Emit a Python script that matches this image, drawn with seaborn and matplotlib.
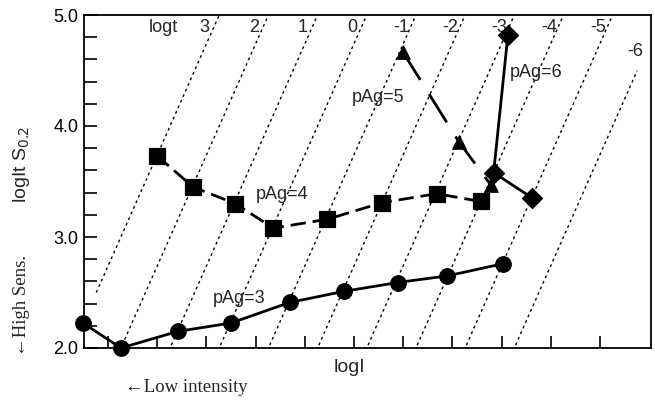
import numpy as np
import pandas as pd
import matplotlib
matplotlib.use("Agg")
import matplotlib.pyplot as plt
import seaborn as sns

# ---- data ----
pag3_x = [-0.77, 0.00, 1.16, 2.24, 3.43, 4.53, 5.63, 6.64, 7.78]
pag3_y = [2.225, 2.00, 2.15, 2.225, 2.41, 2.51, 2.59, 2.65, 2.76]

pag4_x = [0.74, 1.47, 2.33, 3.10, 4.20, 5.32, 6.42, 7.32]
pag4_y = [3.73, 3.45, 3.30, 3.08, 3.16, 3.31, 3.39, 3.32]

pag5_x = [5.73, 6.87, 7.52]
pag5_y = [4.67, 3.86, 3.47]

pag6_x = [7.87, 7.58, 8.37]
pag6_y = [4.82, 3.58, 3.35]

logt_values = [3, 2, 1, 0, -1, -2, -3, -4, -5, -6]
logt_labels = ["3", "2", "1", "0", "-1", "-2", "-3", "-4", "-5", "-6"]
series_labels = ["pAg=3", "pAg=4", "pAg=5", "pAg=6"]
yticks_major = [2.0, 3.0, 4.0, 5.0]
ytick_labels = ["2.0", "3.0", "4.0", "5.0"]

sns.set_style("ticks")
plt.rcParams['font.family'] = ['Liberation Sans', 'DejaVu Sans']

fig = plt.figure(figsize=(6.55, 4.0), dpi=100)
ax = fig.add_axes([84/655, 1-348/400, (651-84)/655, (348-15)/400])

xmin, xmax = -0.75, 10.78
ax.set_xlim(xmin, xmax)
ax.set_ylim(2.0, 5.0)

# isochrone guide lines: logIt = logI + logt
for lt in logt_values:
    xs = np.array([-0.5, 10.5])
    ax.plot(xs, xs + lt, color='black', lw=1.0, linestyle=(0, (2.0, 2.4)), zorder=1)

df3 = pd.DataFrame({'x': pag3_x, 'y': pag3_y})
df4 = pd.DataFrame({'x': pag4_x, 'y': pag4_y})
df5 = pd.DataFrame({'x': pag5_x, 'y': pag5_y})
df6 = pd.DataFrame({'x': pag6_x, 'y': pag6_y})

sns.lineplot(data=df3, x='x', y='y', ax=ax, sort=False, estimator=None,
             color='black', lw=2.0, zorder=3)
sns.lineplot(data=df4, x='x', y='y', ax=ax, sort=False, estimator=None,
             color='black', lw=2.0, zorder=3, linestyle=(0, (5.5, 2.5)))
sns.lineplot(data=df5, x='x', y='y', ax=ax, sort=False, estimator=None,
             color='black', lw=2.0, zorder=3, linestyle=(0, (12, 6)))
sns.lineplot(data=df6, x='x', y='y', ax=ax, sort=False, estimator=None,
             color='black', lw=2.0, zorder=3)

sc_kw = dict(color='black', edgecolor='black', zorder=4, clip_on=False, legend=False)
sns.scatterplot(data=df3, x='x', y='y', ax=ax, marker='o', s=125, **sc_kw)
sns.scatterplot(data=df4, x='x', y='y', ax=ax, marker='s', s=120, **sc_kw)
sns.scatterplot(data=df5, x='x', y='y', ax=ax, marker='^', s=95, **sc_kw)
sns.scatterplot(data=df6, x='x', y='y', ax=ax, marker='D', s=105, **sc_kw)

# logt labels
fs = 13
ax.text(0.86, 4.89, "logt", ha='center', va='center', fontsize=fs)
for lt, lab in zip(logt_values, logt_labels):
    if lt == -6:
        ax.text(10.45, 4.67, lab, ha='center', va='center', fontsize=fs)
    else:
        ax.text(5 - lt - 0.3, 4.89, lab, ha='center', va='center', fontsize=fs)

# series labels
ax.text(2.41, 2.45, series_labels[0], ha='center', va='center', fontsize=fs)
ax.text(3.28, 3.38, series_labels[1], ha='center', va='center', fontsize=fs)
ax.text(5.24, 4.26, series_labels[2], ha='center', va='center', fontsize=fs)
ax.text(8.44, 4.48, series_labels[3], ha='center', va='center', fontsize=fs)

# ticks
ax.set_yticks(yticks_major)
ax.set_yticklabels(ytick_labels, fontsize=fs)
ax.set_yticks(np.arange(2.2, 5.0, 0.2), minor=True)
ax.set_xticks(np.arange(-0.26, 10.0, 1.0))
ax.set_xticklabels([])
ax.tick_params(axis='both', which='both', direction='in', length=9, width=1.2,
               color='black', labelcolor='black')
ax.tick_params(axis='y', which='major', pad=4)
for s in ax.spines.values():
    s.set_visible(True)
    s.set_linewidth(1.3)
    s.set_color('black')
ax.set_xlabel("")
ax.set_ylabel("")

# axis titles
fig.text(22/655, 1-165/400, r"logIt S$_{0.2}$", rotation=90, ha='center', va='center', fontsize=14)
fig.text(22/655, 1-305/400, "\u2190High Sens.", rotation=90, ha='center', va='center',
         fontsize=13.5, family=['Liberation Serif', 'DejaVu Serif'])
fig.text(349/655, 1-368/400, "logI", ha='center', va='center', fontsize=14)
fig.text(186/655, 1-388/400, "\u2190Low intensity", ha='center', va='center',
         fontsize=13.5, family=['Liberation Serif', 'DejaVu Serif'])

fig.savefig("out.png", dpi=100)
